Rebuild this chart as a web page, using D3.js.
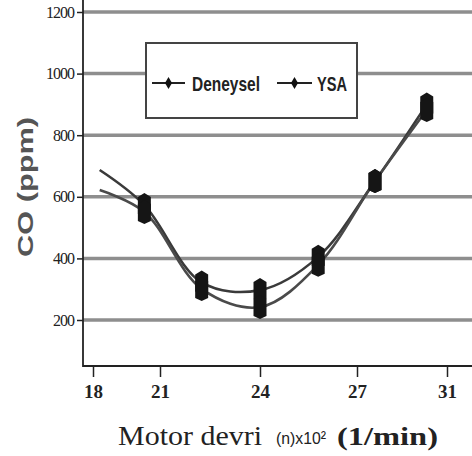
<!DOCTYPE html>
<html><head><meta charset="utf-8">
<script src="https://cdn.jsdelivr.net/npm/d3@7"></script>
<style>html,body{margin:0;padding:0;background:#fff;}svg{display:block;}</style>
</head><body>
<svg id="c" width="472" height="456"></svg>
<script>
const xTicks = [18, 21, 24, 27, 31];
const yTicks = [200, 400, 600, 800, 1000, 1200];
const yTickLabels = ["200", "400", "600", "800", "1000", "1200"];
const rpm = [18.3, 20.3, 22.25, 24, 25.8, 27.8, 30.1];
const deneysel = [687, 573, 322, 297, 405, 651, 900];
const ysa = [622, 551, 301, 242, 379, 651, 882];
const seriesNames = ["Deneysel", "YSA"];

const svg = d3.select("#c");
const x = d3.scaleLinear().domain(xTicks).range([93, 160, 260, 357, 447]);
const y = d3.scaleLinear().domain([200, 1200]).range([320, 12]);
const axisLeftX = 83, axisBottomY = 366;

// gridlines
svg.append("g").selectAll("line").data(yTicks).join("line")
  .attr("x1", axisLeftX).attr("x2", 472)
  .attr("y1", d => y(d)).attr("y2", d => y(d))
  .attr("stroke", "#8e8e8e").attr("stroke-width", 3.5);

// y axis
const yAxis = d3.axisLeft(y).tickValues(yTicks).tickSize(6).tickPadding(3)
  .tickFormat((d, i) => yTickLabels[i]);
const gy = svg.append("g").attr("transform", `translate(${axisLeftX},0)`).call(yAxis);
gy.select(".domain").remove();
gy.selectAll("line").attr("stroke", "#222").attr("stroke-width", 1.5);
gy.selectAll("text").attr("font-family", "Liberation Serif, serif").attr("font-size", 16)
  .attr("fill", "#222").attr("letter-spacing", "-1");
svg.append("line").attr("x1", axisLeftX).attr("x2", axisLeftX).attr("y1", 0).attr("y2", axisBottomY + 1)
  .attr("stroke", "#222").attr("stroke-width", 1.8);

// x axis
const xAxis = d3.axisBottom(x).tickValues(xTicks).tickSize(11).tickPadding(8).tickFormat(d3.format("d"));
const gx = svg.append("g").attr("transform", `translate(0,${axisBottomY})`).call(xAxis);
gx.select(".domain").remove();
gx.selectAll("line").attr("stroke", "#222").attr("stroke-width", 1.5);
gx.selectAll("text").attr("font-family", "Liberation Serif, serif").attr("font-size", 19)
  .attr("font-weight", "bold").attr("fill", "#222");
svg.append("line").attr("x1", axisLeftX).attr("x2", 472).attr("y1", axisBottomY).attr("y2", axisBottomY)
  .attr("stroke", "#222").attr("stroke-width", 2);

// legend
const lg = svg.append("g");
lg.append("rect").attr("x", 146).attr("y", 43).attr("width", 211).attr("height", 75)
  .attr("fill", "#fff").attr("stroke", "#444").attr("stroke-width", 2);
const legendItems = [
  {name: seriesNames[0], x1: 152, x2: 185, tx: 192, tl: 68},
  {name: seriesNames[1], x1: 277, x2: 312, tx: 317, tl: 30}
];
legendItems.forEach(it => {
  lg.append("line").attr("x1", it.x1).attr("x2", it.x2).attr("y1", 83).attr("y2", 83)
    .attr("stroke", "#222").attr("stroke-width", 2);
  lg.append("path").attr("d", "M0,-6 L3.5,0 L0,6 L-3.5,0 Z")
    .attr("transform", `translate(${(it.x1 + it.x2) / 2},83)`).attr("fill", "#111");
  lg.append("text").attr("x", it.tx).attr("y", 91).text(it.name)
    .attr("font-family", "Liberation Sans Narrow, Liberation Sans, sans-serif").attr("font-weight", "bold")
    .attr("font-size", 21).attr("fill", "#222")
    .attr("textLength", it.tl).attr("lengthAdjust", "spacingAndGlyphs");
});

// lines
const line = d3.line().x((d, i) => x(rpm[i])).y(d => y(d)).curve(d3.curveCatmullRom.alpha(0.5));
const series = [{vals: deneysel, col: "#3a3a3a"}, {vals: ysa, col: "#4a4a4a"}];
series.forEach(s => {
  svg.append("path").attr("d", line(s.vals)).attr("fill", "none")
    .attr("stroke", s.col).attr("stroke-width", 2.6);
});
series.forEach(s => {
  svg.append("g").selectAll("path").data(s.vals.slice(1)).join("path")
    .attr("d", "M-6.5,-8 L0,-12 L6.5,-8 L6.5,9 L0,12 L-6.5,9 Z")
    .attr("transform", (d, i) => `translate(${x(rpm[i + 1])},${y(d)})`)
    .attr("fill", "#151515");
});

// y title
svg.append("text").attr("transform", "translate(33,187) rotate(-90)")
  .attr("text-anchor", "middle").text("CO (ppm)")
  .attr("font-family", "Liberation Sans, Arial, sans-serif").attr("font-weight", "bold")
  .attr("font-size", 22).attr("fill", "#555")
  .attr("textLength", 140).attr("lengthAdjust", "spacingAndGlyphs");

// x title
svg.append("text").attr("x", 118).attr("y", 445).text("Motor devri")
  .attr("font-family", "Liberation Serif, serif").attr("font-size", 28).attr("fill", "#222")
  .attr("textLength", 144).attr("lengthAdjust", "spacingAndGlyphs");
svg.append("text").attr("x", 276).attr("y", 444).text("(n)x10\u00B2")
  .attr("font-family", "Liberation Sans, sans-serif").attr("font-size", 17).attr("fill", "#222")
  .attr("textLength", 50).attr("lengthAdjust", "spacingAndGlyphs");
svg.append("text").attr("x", 337).attr("y", 445).text("(1/min)")
  .attr("font-family", "Liberation Serif, serif").attr("font-weight", "bold").attr("font-size", 25).attr("fill", "#222")
  .attr("textLength", 101).attr("lengthAdjust", "spacingAndGlyphs");
</script>
</body></html>
